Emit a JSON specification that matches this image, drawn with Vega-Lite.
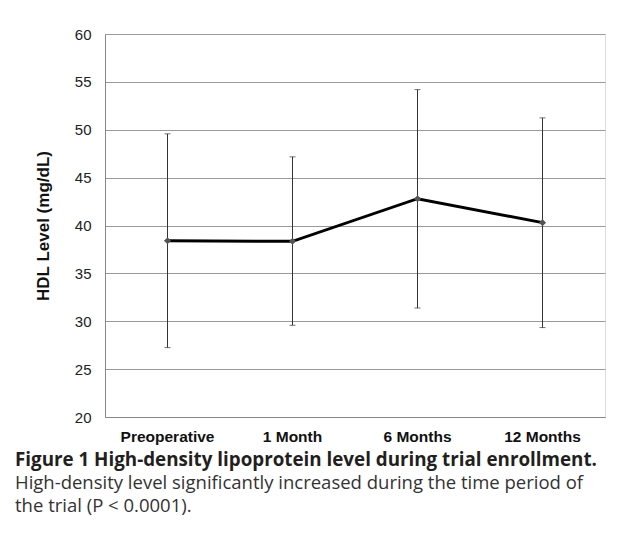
{
  "$schema": "https://vega.github.io/schema/vega-lite/v6.json",
  "width": 500,
  "height": 383,
  "autosize": {"type": "none"},
  "padding": {"left": 105, "top": 34, "right": 24, "bottom": 123},
  "background": "white",
  "data": {
    "values": [
      {"time": "Preoperative", "mean": 38.4, "lo": 27.25, "hi": 49.57},
      {"time": "1 Month", "mean": 38.35, "lo": 29.58, "hi": 47.17},
      {"time": "6 Months", "mean": 42.8, "lo": 31.38, "hi": 54.19},
      {"time": "12 Months", "mean": 40.3, "lo": 29.34, "hi": 51.24}
    ]
  },
  "title": {
    "text": "Figure 1 High-density lipoprotein level during trial enrollment.",
    "subtitle": ["High-density level significantly increased during the time period of", "the trial (P < 0.0001)."],
    "orient": "bottom",
    "anchor": "start",
    "frame": "group",
    "dx": -90,
    "offset": 6,
    "font": "Open Sans",
    "fontSize": 18.8,
    "fontWeight": "bold",
    "color": "#231f20",
    "lineHeight": 22,
    "subtitleFont": "Open Sans",
    "subtitleFontSize": 18.5,
    "subtitleColor": "#333333",
    "subtitleLineHeight": 23,
    "subtitlePadding": 5
  },
  "encoding": {
    "x": {
      "field": "time",
      "type": "nominal",
      "sort": null,
      "axis": {
        "title": null,
        "labelAngle": 0,
        "labelFont": "Liberation Sans",
        "labelFontSize": 15.5,
        "labelFontWeight": "bold",
        "labelColor": "#111111",
        "labelPadding": 12,
        "ticks": false,
        "domainColor": "#888888",
        "grid": false
      }
    }
  },
  "layer": [
    {
      "mark": {
        "type": "errorbar",
        "ticks": {"size": 6, "color": "#333333"},
        "rule": {"color": "#333333", "strokeWidth": 1}
      },
      "encoding": {
        "y": {
          "field": "lo",
          "type": "quantitative",
          "scale": {"domain": [20, 60], "nice": false, "zero": false},
          "axis": {
            "title": "HDL Level (mg/dL)",
            "titleFont": "Liberation Sans",
            "titleFontSize": 17,
            "titleFontWeight": "bold",
            "titleColor": "#111111",
            "titlePadding": 22,
            "values": [20, 25, 30, 35, 40, 45, 50, 55, 60],
            "labelFont": "Liberation Sans",
            "labelFontSize": 15,
            "labelColor": "#222222",
            "labelPadding": 14,
            "ticks": false,
            "domainColor": "#888888",
            "grid": true,
            "gridColor": "#999999",
            "gridWidth": 1
          }
        },
        "y2": {"field": "hi"}
      }
    },
    {
      "mark": {"type": "line", "color": "black", "strokeWidth": 3},
      "encoding": {
        "y": {"field": "mean", "type": "quantitative", "title": "HDL Level (mg/dL)"}
      }
    },
    {
      "mark": {"type": "point", "shape": "diamond", "filled": true, "size": 50, "color": "#555555", "opacity": 1},
      "encoding": {
        "y": {"field": "mean", "type": "quantitative", "title": "HDL Level (mg/dL)"}
      }
    }
  ]
}
